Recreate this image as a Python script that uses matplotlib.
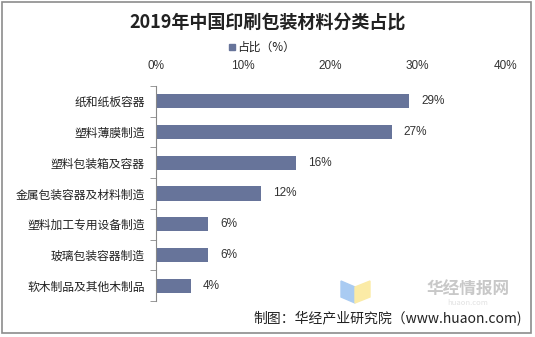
import matplotlib.pyplot as plt
from matplotlib.patches import Polygon, Rectangle

plt.rcParams['font.family'] = ['Noto Sans CJK SC', 'DejaVu Sans']

categories = ['纸和纸板容器', '塑料薄膜制造', '塑料包装箱及容器', '金属包装容器及材料制造',
              '塑料加工专用设备制造', '玻璃包装容器制造', '软木制品及其他木制品']
values = [29, 27, 16, 12, 6, 6, 4]
xticks = [0, 10, 20, 30, 40]
bar_color = '#67749A'

W, H = 535, 337
fig = plt.figure(figsize=(W / 100, H / 100), dpi=100)
ax = fig.add_axes([156 / W, 1 - 301 / H, 349 / W, 215 / H])

pos = list(range(len(categories)))
ax.barh(pos, values, height=0.46, color=bar_color)
for p, v in zip(pos, values):
    ax.text(v + 1.4, p, f'{v}%', va='center', ha='left', fontsize=8.5,
            color='#333333', family=['Liberation Sans', 'DejaVu Sans'])

ax.set_xlim(0, 40)
ax.set_ylim(len(categories) - 0.5, -0.5)
ax.set_xticks(xticks)
ax.set_xticklabels([f'{t}%' for t in xticks], family=['Liberation Sans', 'DejaVu Sans'])
ax.xaxis.tick_top()
ax.tick_params(axis='x', length=0, pad=10, labelsize=8.5, labelcolor='#333333')
ax.set_yticks(pos)
ax.set_yticklabels(categories, fontsize=8.5, color='#222222')
ax.tick_params(axis='y', length=0, pad=8)
ax.set_yticks([p - 0.5 for p in pos] + [len(pos) - 0.5], minor=True)
ax.tick_params(axis='y', which='minor', length=4, color='#888888', direction='out')
for s in ['top', 'right', 'bottom']:
    ax.spines[s].set_visible(False)
ax.spines['left'].set_color('#888888')

fig.text(0.5, 1 - 22 / H, '2019年中国印刷包装材料分类占比', ha='center', va='center',
         fontsize=13, fontweight='bold', color='#222222')
fig.patches.append(Rectangle(((229) / W, 1 - 50 / H), 6 / W, 6 / H,
                             transform=fig.transFigure, color=bar_color))
fig.text(237 / W, 1 - 47 / H, '占比（%）', ha='left', va='center', fontsize=8.5, color='#222222')

# watermark
fig.patches.append(Polygon([(341 / W, 1 - 281 / H), (355 / W, 1 - 287 / H), (355 / W, 1 - 303 / H),
                            (341 / W, 1 - 297 / H)], closed=True, transform=fig.transFigure,
                           color='#A9CBF2'))
fig.patches.append(Polygon([(355 / W, 1 - 287 / H), (370 / W, 1 - 281 / H), (370 / W, 1 - 297 / H),
                            (355 / W, 1 - 303 / H)], closed=True, transform=fig.transFigure,
                           color='#FBEBA6'))
fig.text(468 / W, 1 - 290 / H, '华经情报网', ha='center', va='center', fontsize=12,
         fontweight='bold', color='#C8C8C8')
fig.text(468 / W, 1 - 303 / H, 'huaon.com', ha='center', va='center', fontsize=5.5,
         color='#E2E2E2')
fig.text(522 / W, 1 - 319 / H, '制图：华经产业研究院（www.huaon.com)', ha='right', va='center',
         fontsize=10, color='#222222')

fig.patches.append(Rectangle((2 / W, 4 / H), 529 / W, 331 / H, transform=fig.transFigure,
                             fill=False, edgecolor='#8C8C8C', linewidth=1.2))

fig.savefig('out.png', dpi=100)
